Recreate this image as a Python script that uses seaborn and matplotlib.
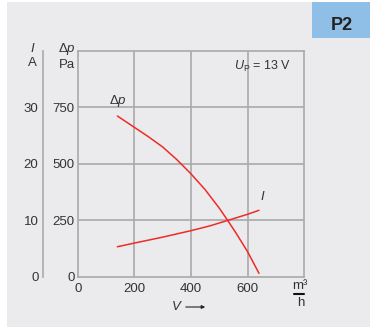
import matplotlib
matplotlib.use("Agg")
import matplotlib.pyplot as plt
import seaborn as sns
import pandas as pd
from matplotlib.patches import Rectangle, FancyArrowPatch
from matplotlib.lines import Line2D

# Data
flow_dp = [140, 200, 250, 300, 350, 400, 450, 500, 529, 560, 600, 640]
dp_vals = [711, 661, 619, 574, 518, 455, 385, 303, 250, 191, 110, 15]
flow_i = [140, 200, 300, 400, 467, 529, 600, 640]
i_vals = [5.3, 5.95, 7.0, 8.15, 9.0, 9.95, 11.05, 11.75]
x_ticks = [0, 200, 400, 600]
dp_ticks = [0, 250, 500, 750]
i_ticks = [0, 10, 20, 30]

sns.set_style("white")
plt.rcParams["font.family"] = ["Liberation Sans", "DejaVu Sans"]
plt.rcParams["mathtext.fontset"] = "custom"
plt.rcParams["mathtext.rm"] = "Liberation Sans"
plt.rcParams["mathtext.it"] = "Liberation Sans:italic"

W, H = 370, 327
fig = plt.figure(figsize=(W / 100, H / 100), dpi=100)
fig.patch.set_facecolor("white")

def fx(px):
    return px / W

def fy(py):
    return 1 - py / H

bg = "#ebebed"
fig.patches.append(Rectangle((fx(7), 0), 1 - fx(7), fy(2.3), transform=fig.transFigure,
                             facecolor=bg, edgecolor="none", zorder=-10))
fig.patches.append(Rectangle((fx(312.3), fy(38.3)), 1 - fx(312.3), fy(2.3) - fy(38.3),
                             transform=fig.transFigure, facecolor="#8fbee6",
                             edgecolor="none", zorder=-5))
fig.text(fx(342), fy(25), "P2", fontsize=13, fontweight="bold", color="#222222",
         ha="center", va="center")

left, right, top, bottom = 77.7, 304.3, 50.7, 276.7
pos = [fx(left), fy(bottom), fx(right) - fx(left), fy(top) - fy(bottom)]
ax = fig.add_axes(pos)
ax.set_facecolor("none")
grid_c = "#a9a9a9"
text_c = "#333333"
red = "#ee2b26"

df_dp = pd.DataFrame({"V": flow_dp, "dp": dp_vals})
sns.lineplot(data=df_dp, x="V", y="dp", ax=ax, color=red, linewidth=1.1, zorder=5)
ax.set_xlim(0, 800)
ax.set_ylim(0, 1000)
ax.set_xticks(x_ticks)
ax.set_yticks(dp_ticks)
ax.set_xticklabels([str(v) for v in x_ticks])
ax.set_yticklabels([str(v) for v in dp_ticks])
ax.tick_params(axis="both", length=0, labelsize=9.5, labelcolor=text_c)
ax.tick_params(axis="y", pad=2.0)
ax.tick_params(axis="x", pad=4.5)
ax.set_xlabel("")
ax.set_ylabel("")
for s in ax.spines.values():
    s.set_color(grid_c)
    s.set_linewidth(1.2)
for v in [200, 400, 600]:
    ax.axvline(v, color=grid_c, lw=1.2, zorder=1)
for v in [250, 500, 750]:
    ax.axhline(v, color=grid_c, lw=1.2, zorder=1)

ax2 = fig.add_axes(pos, sharex=ax)
ax2.set_facecolor("none")
df_i = pd.DataFrame({"V": flow_i, "I": i_vals})
sns.lineplot(data=df_i, x="V", y="I", ax=ax2, color=red, linewidth=1.1, zorder=5)
ax2.set_ylim(0, 40)
ax2.set_xlim(0, 800)
for k in ["top", "right", "bottom"]:
    ax2.spines[k].set_visible(False)
ax2.spines["left"].set_position(("outward", (left - 43.3) * 0.72))
ax2.spines["left"].set_color(grid_c)
ax2.spines["left"].set_linewidth(1.2)
ax2.set_yticks(i_ticks)
ax2.set_yticklabels([str(v) for v in i_ticks])
ax2.tick_params(axis="y", length=3, width=1, color=grid_c, pad=0.5,
                labelsize=9.5, labelcolor=text_c, direction="out")
ax2.tick_params(axis="x", bottom=False, labelbottom=False)
ax2.set_xlabel("")
ax2.set_ylabel("")

# Headers
fig.text(fx(32.3), fy(48), "$I$", fontsize=9.5, color=text_c, ha="center", va="center")
fig.text(fx(32.3), fy(63), "A", fontsize=9.5, color=text_c, ha="center", va="center")
fig.text(fx(66.5), fy(49), r"Δ$p$", fontsize=9.5, color=text_c, ha="center", va="center")
fig.text(fx(66.7), fy(65), "Pa", fontsize=9.5, color=text_c, ha="center", va="center")

# In-plot labels
fig.text(fx(117.5), fy(100.5), r"Δ$p$", fontsize=9.5, color=text_c, ha="center", va="center")
fig.text(fx(262.3), fy(197), "$I$", fontsize=9.5, color=text_c, ha="center", va="center")
fig.text(fx(291), fy(66), r"$U_{\mathrm{P}}$ = 13 V", fontsize=9, color=text_c,
         ha="right", va="center")

# Units on x
fig.text(fx(299.5), fy(286), "m³", fontsize=9.5, color=text_c, ha="center", va="center")
fig.text(fx(300.5), fy(303), "h", fontsize=9.5, color=text_c, ha="center", va="center")
fig.lines.append(Line2D([fx(294), fx(304)], [fy(293.5), fy(293.5)], transform=fig.transFigure,
                        color="#111111", lw=1.5))
fig.text(fx(176.7), fy(307), "$V$", fontsize=9.5, color=text_c, ha="center", va="center")
fig.patches.append(FancyArrowPatch((fx(183), fy(307)), (fx(208), fy(307)),
                                   transform=fig.transFigure, arrowstyle="-|>",
                                   mutation_scale=5, color="#222222", lw=0.8))

fig.savefig("out.png", dpi=100, facecolor=fig.get_facecolor())
